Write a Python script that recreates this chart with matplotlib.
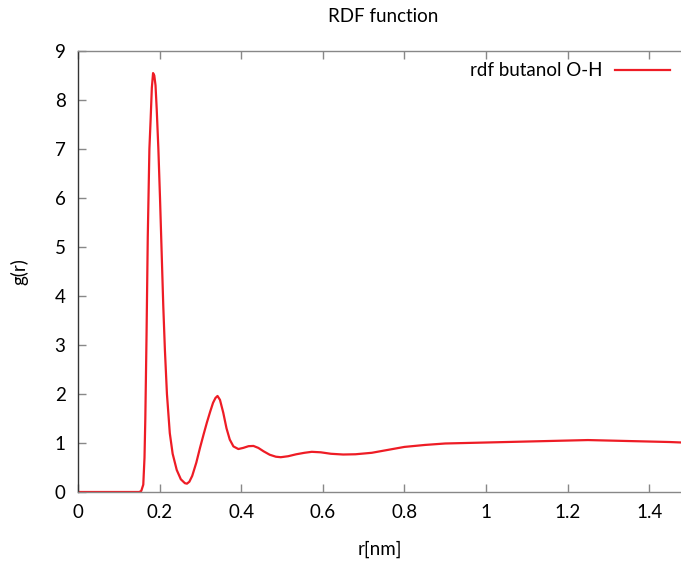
import matplotlib
matplotlib.use("Agg")
import matplotlib.pyplot as plt

plt.rcParams['font.family'] = ['Lato', 'DejaVu Sans']

# g(r)
r = [0.0, 0.05, 0.10, 0.14, 0.150, 0.155, 0.160, 0.163, 0.165, 0.168, 0.171,
     0.175, 0.178, 0.181, 0.184, 0.187, 0.190, 0.193, 0.197, 0.201, 0.205,
     0.209, 0.213, 0.218, 0.225, 0.232, 0.242, 0.252, 0.262, 0.267, 0.273,
     0.280, 0.290, 0.299, 0.308, 0.316, 0.324, 0.331, 0.337, 0.342, 0.348,
     0.356, 0.364, 0.372, 0.381, 0.393, 0.405, 0.418, 0.430, 0.442, 0.455,
     0.470, 0.485, 0.497, 0.515, 0.535, 0.555, 0.573, 0.595, 0.62, 0.65, 0.68,
     0.72, 0.76, 0.80, 0.85, 0.90, 0.95, 1.00, 1.05, 1.10, 1.15, 1.20, 1.25,
     1.30, 1.35, 1.40, 1.45, 1.48]
g = [0.0, 0.0, 0.0, 0.0, 0.0, 0.02, 0.15, 0.7, 1.5, 3.2, 5.2,
     7.0, 7.6, 8.25, 8.55, 8.5, 8.3, 7.8, 7.0, 6.0, 4.9,
     3.8, 2.9, 2.0, 1.2, 0.78, 0.45, 0.26, 0.18, 0.17, 0.21,
     0.33, 0.60, 0.90, 1.18, 1.42, 1.64, 1.82, 1.92, 1.96, 1.88,
     1.62, 1.30, 1.07, 0.93, 0.877, 0.90, 0.935, 0.94, 0.90, 0.83,
     0.76, 0.72, 0.71, 0.73, 0.77, 0.80, 0.82, 0.81, 0.78, 0.765, 0.77,
     0.80, 0.86, 0.92, 0.96, 0.99, 1.00, 1.01, 1.02, 1.03, 1.04, 1.05,
     1.06, 1.05, 1.04, 1.03, 1.02, 1.01]

xticks = [0, 0.2, 0.4, 0.6, 0.8, 1, 1.2, 1.4]
xticklabels = ['0', '0.2', '0.4', '0.6', '0.8', '1', '1.2', '1.4']
yticks = list(range(0, 10))

fs = 13.5

fig = plt.figure(figsize=(6.81, 5.61), dpi=100)
ax = fig.add_axes([78 / 681, 69 / 561, (681 - 78) / 681, (492 - 51) / 561])

ax.plot(r, g, color='#ee1c25', lw=1.6, label='rdf butanol O-H')

ax.set_xlim(0, 1.478)
ax.set_ylim(0, 9)
ax.set_xticks(xticks)
ax.set_xticklabels(xticklabels)
ax.set_yticks(yticks)

ax.spines['right'].set_visible(False)
ax.spines['left'].set_color('#333333')
ax.spines['top'].set_color('#888888')
ax.spines['bottom'].set_color('#888888')
for s in ['left', 'top', 'bottom']:
    ax.spines[s].set_linewidth(1.0)

ax.tick_params(direction='in', length=6, width=1, color='#888888',
               labelsize=fs, top=True, right=False, pad=9)

ax.set_xlabel('r[nm]', fontsize=fs, labelpad=14)
ax.set_ylabel('g(r)', fontsize=fs, labelpad=19)
fig.text(383 / 681, 1 - 17 / 561, 'RDF function', ha='center', va='center', fontsize=fs)

leg = ax.legend(loc='upper right', frameon=False, markerfirst=False, fontsize=fs,
                handlelength=2.9, handletextpad=0.7, borderaxespad=0.2,
                bbox_to_anchor=(1.0, 1.0))

fig.savefig('out.png', dpi=100)
